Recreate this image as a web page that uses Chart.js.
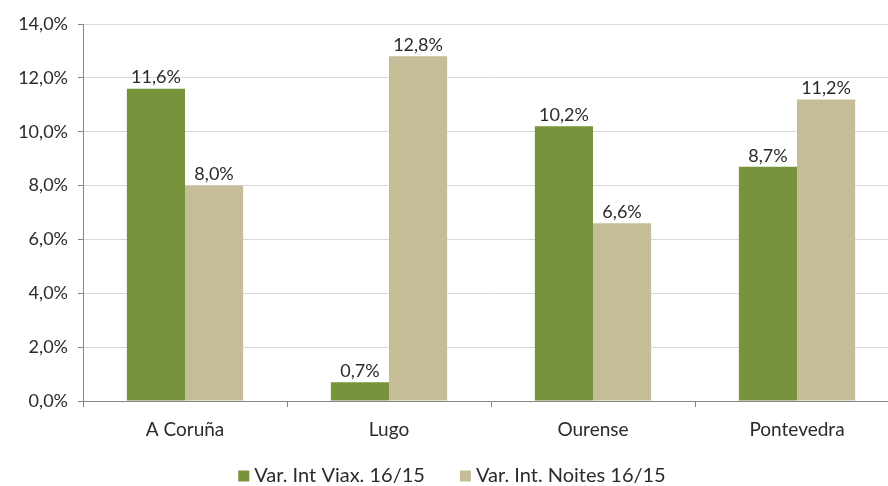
<!DOCTYPE html>
<html>
<head>
<meta charset="utf-8">
<script src="https://cdn.jsdelivr.net/npm/chart.js@4.4.1/dist/chart.umd.min.js"></script>
<style>
  html, body { margin: 0; padding: 0; background: #fff; overflow: hidden; }
  #wrap { position: relative; width: 899px; height: 486px; }
</style>
</head>
<body>
<div id="wrap"><canvas id="chart"></canvas></div>
<script>
// Chart data
const provinces = ['A Coruña', 'Lugo', 'Ourense', 'Pontevedra'];
const seriesNames = ['Var. Int Viax. 16/15', 'Var. Int. Noites 16/15'];
const viaxeiros = [11.6, 0.7, 10.2, 8.7];
const noites = [8.0, 12.8, 6.6, 11.2];
const yTicks = [0, 2, 4, 6, 8, 10, 12, 14];

const FONT = 'Lato, "Open Sans", sans-serif';
const TEXT = '#2b2b2b';

function pct(v) {
    return v.toFixed(1).replace('.', ',') + '%';
}

// Value labels above each bar
const barLabels = {
    id: 'barLabels',
    afterDatasetsDraw(chart) {
        const ctx = chart.ctx;
        ctx.save();
        ctx.font = '18px ' + FONT;
        ctx.fillStyle = TEXT;
        ctx.textAlign = 'center';
        ctx.textBaseline = 'bottom';
        chart.data.datasets.forEach((ds, i) => {
            chart.getDatasetMeta(i).data.forEach((bar, j) => {
                ctx.fillText(pct(ds.data[j]), bar.x, bar.y - 2);
            });
        });
        ctx.restore();
    }
};

// Legend at the bottom, centred like the original
const bottomLegend = {
    id: 'bottomLegend',
    afterDraw(chart) {
        const ctx = chart.ctx;
        ctx.save();
        ctx.font = '20px ' + FONT;
        ctx.textBaseline = 'middle';
        const box = 11, gap = 5, spacing = 35;
        const items = chart.data.datasets.map(ds => ({
            text: ds.label,
            color: ds.backgroundColor,
            w: box + gap + ctx.measureText(ds.label).width
        }));
        const total = items.reduce((s, it) => s + it.w, 0) + spacing * (items.length - 1);
        let x = 452 - total / 2;
        const y = 476;
        items.forEach(it => {
            ctx.fillStyle = it.color;
            ctx.fillRect(x, y - box / 2, box, box);
            ctx.fillStyle = TEXT;
            ctx.textAlign = 'left';
            ctx.fillText(it.text, x + box + gap, y);
            x += it.w + spacing;
        });
        ctx.restore();
    }
};

new Chart(document.getElementById('chart'), {
    type: 'bar',
    data: {
        labels: provinces,
        datasets: [
            { label: seriesNames[0], data: viaxeiros, backgroundColor: '#77933C' },
            { label: seriesNames[1], data: noites, backgroundColor: '#C4BD97' }
        ]
    },
    options: {
        responsive: true,
        maintainAspectRatio: false,
        animation: false,
        layout: { padding: { top: 24, left: 0, right: 0, bottom: 0 } },
        datasets: {
            bar: { categoryPercentage: 0.57, barPercentage: 1.0 }
        },
        plugins: {
            legend: { display: false },
            tooltip: { enabled: false }
        },
        scales: {
            x: {
                afterFit(scale) { scale.height = 85; },
                grid: {
                    offset: true,
                    drawOnChartArea: false,
                    drawTicks: true,
                    tickLength: 6,
                    color: '#868686'
                },
                border: { color: '#868686' },
                ticks: {
                    color: TEXT,
                    font: { family: FONT, size: 19 },
                    padding: 11
                }
            },
            y: {
                min: 0,
                max: 14,
                afterFit(scale) { scale.width = 83; },
                afterBuildTicks(scale) {
                    scale.ticks = yTicks.map(v => ({ value: v }));
                },
                grid: {
                    color: '#D9D9D9',
                    drawTicks: true,
                    tickLength: 5,
                    tickColor: '#868686'
                },
                border: { color: '#868686' },
                ticks: {
                    color: TEXT,
                    font: { family: FONT, size: 18 },
                    padding: 10,
                    callback: v => pct(v)
                }
            }
        }
    },
    plugins: [barLabels, bottomLegend]
});
</script>
</body>
</html>
